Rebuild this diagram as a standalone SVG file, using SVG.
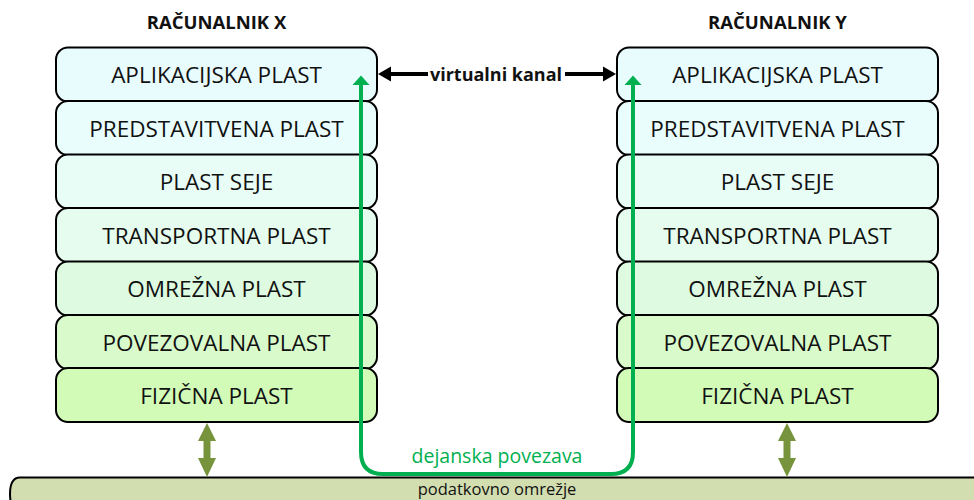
<svg xmlns="http://www.w3.org/2000/svg" width="974" height="500" viewBox="0 0 974 500">
  <style>
    .layer { stroke: #000; stroke-width: 2; }
    .lt { font-family: "Open Sans", "Liberation Sans", sans-serif; font-size: 22.5px; fill: #111; text-anchor: middle; }
    .title { font-family: "Open Sans", "Liberation Sans", sans-serif; font-size: 18.5px; font-weight: bold; fill: #111; text-anchor: middle; }
    .l1 { fill: #E8FCFE; } .l2 { fill: #E9FDFC; } .l3 { fill: #E9FDF7; }
    .l4 { fill: #E5FCEE; } .l5 { fill: #DEFBE1; } .l6 { fill: #D9FBCC; } .l7 { fill: #D3FBB8; }
    .olive { fill: #77933C; }
    .green { fill: #00B050; }
  </style>

  <rect width="974" height="500" fill="#fff"/>

  <!-- network bar -->
  <g id="network">
    <path d="M20,477.5 H980 V510 H20 Q10,510 10,494 Q10,477.5 20,477.5 z" fill="#D3DEB0" stroke="#000" stroke-width="2"/>
    <text x="497" y="494.5" font-family="'Open Sans', 'Liberation Sans', sans-serif" font-size="16.5" fill="#111" text-anchor="middle">podatkovno omrežje</text>
  </g>

  <!-- computer X -->
  <g id="computerX">
    <text class="title" x="216.5" y="28.5">RAČUNALNIK X</text>
    <g id="x-app"><rect class="layer l1" x="56" y="47.5" width="321" height="54" rx="12"/><text class="lt" x="216.5" y="83">APLIKACIJSKA PLAST</text></g>
    <g id="x-pres"><rect class="layer l2" x="56" y="101" width="321" height="54" rx="12"/><text class="lt" x="216.5" y="136.5">PREDSTAVITVENA PLAST</text></g>
    <g id="x-sess"><rect class="layer l3" x="56" y="154.5" width="321" height="54" rx="12"/><text class="lt" x="216.5" y="190">PLAST SEJE</text></g>
    <g id="x-trans"><rect class="layer l4" x="56" y="208" width="321" height="54" rx="12"/><text class="lt" x="216.5" y="243.5">TRANSPORTNA PLAST</text></g>
    <g id="x-net"><rect class="layer l5" x="56" y="261.5" width="321" height="54" rx="12"/><text class="lt" x="216.5" y="297">OMREŽNA PLAST</text></g>
    <g id="x-link"><rect class="layer l6" x="56" y="315" width="321" height="54" rx="12"/><text class="lt" x="216.5" y="350.5">POVEZOVALNA PLAST</text></g>
    <g id="x-phys"><rect class="layer l7" x="56" y="368" width="321" height="54" rx="12"/><text class="lt" x="216.5" y="403.5">FIZIČNA PLAST</text></g>
  </g>

  <!-- computer Y -->
  <g id="computerY">
    <text class="title" x="777.5" y="28.5">RAČUNALNIK Y</text>
    <g id="y-app"><rect class="layer l1" x="617" y="47.5" width="321" height="54" rx="12"/><text class="lt" x="777.5" y="83">APLIKACIJSKA PLAST</text></g>
    <g id="y-pres"><rect class="layer l2" x="617" y="101" width="321" height="54" rx="12"/><text class="lt" x="777.5" y="136.5">PREDSTAVITVENA PLAST</text></g>
    <g id="y-sess"><rect class="layer l3" x="617" y="154.5" width="321" height="54" rx="12"/><text class="lt" x="777.5" y="190">PLAST SEJE</text></g>
    <g id="y-trans"><rect class="layer l4" x="617" y="208" width="321" height="54" rx="12"/><text class="lt" x="777.5" y="243.5">TRANSPORTNA PLAST</text></g>
    <g id="y-net"><rect class="layer l5" x="617" y="261.5" width="321" height="54" rx="12"/><text class="lt" x="777.5" y="297">OMREŽNA PLAST</text></g>
    <g id="y-link"><rect class="layer l6" x="617" y="315" width="321" height="54" rx="12"/><text class="lt" x="777.5" y="350.5">POVEZOVALNA PLAST</text></g>
    <g id="y-phys"><rect class="layer l7" x="617" y="368" width="321" height="54" rx="12"/><text class="lt" x="777.5" y="403.5">FIZIČNA PLAST</text></g>
  </g>

  <!-- connectors -->
  <g id="connectors">
    <!-- virtual channel between application layers -->
    <line x1="388" y1="74" x2="606" y2="74" stroke="#000" stroke-width="4"/>
    <path d="M378,74 L391,66.5 L391,81.5 z" fill="#000"/>
    <path d="M616,74 L603,66.5 L603,81.5 z" fill="#000"/>
    <rect x="428" y="63" width="137" height="22" fill="#fff"/>
    <text x="496" y="80.5" font-family="'Open Sans', 'Liberation Sans', sans-serif" font-size="18" font-weight="bold" fill="#111" text-anchor="middle">virtualni kanal</text>

    <!-- actual connection through the network -->
    <path d="M361,84 V452 Q361,474 383,474 H611 Q633,474 633,452 V84" fill="none" stroke="#00B050" stroke-width="4"/>
    <path class="green" d="M352.5,85 L361,75.5 L369.5,85 z"/>
    <path class="green" d="M624.5,85 L633,75.5 L641.5,85 z"/>
    <text x="497" y="463" font-family="'Open Sans', 'Liberation Sans', sans-serif" font-size="19.5" fill="#00B050" text-anchor="middle">dejanska povezava</text>

    <!-- physical layer links to network -->
    <path class="olive" d="M207,423 L216,441 L210.5,441 L210.5,458 L216,458 L207,477 L198,458 L203.5,458 L203.5,441 L198,441 z"/>
    <path class="olive" d="M787,423 L796,441 L790.5,441 L790.5,458 L796,458 L787,477 L778,458 L783.5,458 L783.5,441 L778,441 z"/>
  </g>
</svg>
